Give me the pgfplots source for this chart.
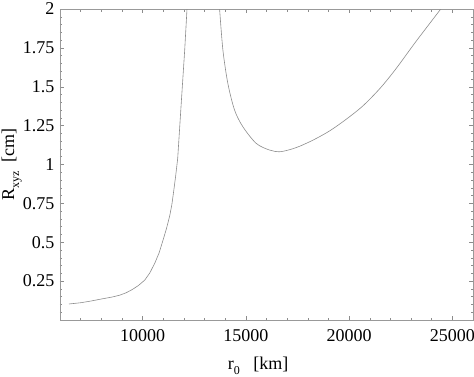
\documentclass[border=0pt]{standalone}
\usepackage{fontspec}
\setmainfont{Liberation Serif}
\usepackage{pgfplots}
\pgfplotsset{compat=1.18}
\newcommand{\sub}[1]{\raisebox{-0.28em}{\fontsize{12}{12}\selectfont #1}}
\begin{document}
\begin{tikzpicture}
\begin{axis}[
  at={(0,0)}, anchor=south west,
  scale only axis, width=413pt, height=311pt,
  xmin=6000, xmax=26000, ymin=0, ymax=2,
  scaled x ticks=false, scaled y ticks=false,
  axis line style={draw=black!40, line width=0.6pt},
  xtick={10000,15000,20000,25000},
  xticklabels={10000,15000,20000,25000},
  minor xtick={6000,7000,...,26000},
  ytick={0.25,0.5,0.75,1,1.25,1.5,1.75,2},
  yticklabels={0.25,0.5,0.75,1,1.25,1.5,1.75,2},
  minor ytick={0.05,0.1,...,1.96},
  tick align=inside,
  major tick length=4pt, minor tick length=2.5pt,
  every tick/.style={draw=black!45, line width=0.5pt},
  tick label style={font=\fontsize{18}{20}\selectfont},
  xticklabel style={yshift=-6pt},
  yticklabel style={xshift=-2pt},
  xlabel={r\sub{0}\ \ \ [km]},
  ylabel={R\sub{xyz}\ \ [cm]},
  label style={font=\fontsize{18}{20}\selectfont},
  xlabel style={at={(axis description cs:0.48,-0.148)}, anchor=center},
  ylabel style={at={(axis description cs:-0.117,0.5)}, anchor=center},
]
\addplot[black!45, line width=0.6pt] coordinates {
(6435,0.103) (7000,0.111) (7500,0.122) (8000,0.135) (8500,0.147) (8900,0.160)
(9200,0.175) (9500,0.196) (9800,0.222) (10106,0.257) (10350,0.303) (10589,0.365)
(10800,0.432) (10990,0.514) (11150,0.585) (11314,0.670) (11420,0.745) (11507,0.830)
(11600,0.925) (11700,1.04) (11874,1.40) (12039,1.736) (12150,2.0)
};
\addplot[black!45, line width=0.6pt, smooth, tension=0.5] coordinates {
(13729,2.0) (13889,1.736) (14130,1.52) (14454,1.35) (14855,1.243) (15500,1.136)
(16145,1.093) (16628,1.082) (17111,1.095) (17600,1.117) (18300,1.16) (19043,1.215)
(19800,1.285) (20652,1.375) (21500,1.49) (22266,1.615) (23232,1.79) (24440,2.0)
};
\end{axis}
\pgfresetboundingbox
\path (-60pt,-56pt) rectangle (414pt,320pt);
\end{tikzpicture}
\end{document}
